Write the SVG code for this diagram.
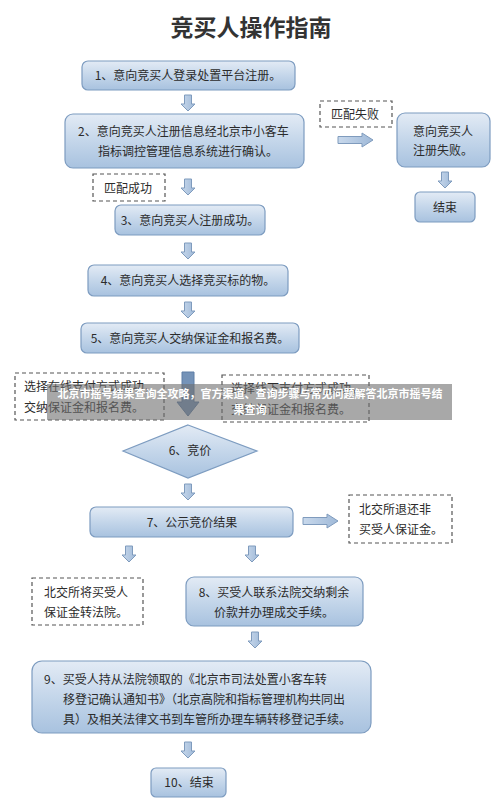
<svg xmlns="http://www.w3.org/2000/svg" width="500" height="804" viewBox="0 0 500 804">
<defs>
<linearGradient id="gb" x1="0" y1="0" x2="0" y2="1">
<stop offset="0" stop-color="#e3ebf5"/>
<stop offset="0.5" stop-color="#c4d6ea"/>
<stop offset="1" stop-color="#a8c2df"/>
</linearGradient>
<linearGradient id="ga" x1="0" y1="0" x2="1" y2="0">
<stop offset="0" stop-color="#c9d9ec"/>
<stop offset="1" stop-color="#9fb9d8"/>
</linearGradient>
<path id="ad" d="M-3.5,0 H3.5 V9 H7 L0,16 L-7,9 H-3.5 Z"/>
<path id="ar" d="M0,-3.5 H24 V-7 L35,0 L24,7 V3.5 H0 Z"/>
</defs>
<style>
.box{fill:url(#gb);stroke:#7d9cc0;stroke-width:1.2}
.dash{fill:#fff;stroke:#555;stroke-width:1.2;stroke-dasharray:4 3}
.arr{fill:url(#ga);stroke:#7f9bbd;stroke-width:1}
.t{font-family:"Noto Sans CJK SC","Noto Sans",sans-serif;font-size:12px;fill:#2b2b2b}
.c{text-anchor:middle}
.title{font-family:"Noto Sans CJK SC",sans-serif;font-size:23px;font-weight:bold;fill:#333;text-anchor:middle}
.ban{font-family:"Noto Sans CJK SC",sans-serif;font-size:11px;font-weight:bold;fill:#fff;text-anchor:middle}
</style>
<rect width="500" height="804" fill="#fff"/>
<text class="title" x="251" y="36">竞买人操作指南</text>

<g id="connectors">
<use href="#ad" class="arr" x="188" y="95"/>
<use href="#ar" class="arr" x="338" y="140"/>
<use href="#ad" class="arr" x="445" y="172"/>
<use href="#ad" class="arr" x="188" y="179"/>
<use href="#ad" class="arr" x="188" y="243"/>
<use href="#ad" class="arr" x="188" y="302"/>
<path d="M182,372 H194 V402 H199 L188,416 L177,402 H182 Z" fill="#7593b8" stroke="#5f7fa6"/>
<use href="#ad" class="arr" x="188" y="484"/>
<use href="#ar" class="arr" x="303" y="521"/>
<use href="#ad" class="arr" x="129" y="546"/>
<use href="#ad" class="arr" x="252" y="546"/>
<use href="#ad" class="arr" x="255" y="632"/>
<use href="#ad" class="arr" x="188" y="742"/>
</g>

<g id="n1"><rect class="box" x="82" y="61" width="213" height="29" rx="6"/><text class="t c" x="188" y="80">1、意向竞买人登录处置平台注册。</text></g>
<g id="n2"><rect class="box" x="65" y="114" width="239" height="54" rx="8"/><text class="t" x="78" y="136">2、意向竞买人注册信息经北京市小客车</text><text class="t c" x="188" y="156">指标调控管理信息系统进行确认。</text></g>
<g id="fail-label"><rect class="dash" x="320" y="101" width="72" height="26"/><text class="t" x="331" y="119">匹配失败</text></g>
<g id="nfail"><rect class="box" x="397" y="113" width="93" height="54" rx="8"/><text class="t c" x="443" y="136">意向竞买人</text><text class="t c" x="443" y="155">注册失败。</text></g>
<g id="nend1"><rect class="box" x="415" y="192" width="60" height="30" rx="5"/><text class="t c" x="445" y="212">结束</text></g>
<g id="ok-label"><rect class="dash" x="93" y="174" width="72" height="27"/><text class="t" x="104" y="193">匹配成功</text></g>
<g id="n3"><rect class="box" x="115" y="205" width="150" height="30" rx="6"/><text class="t c" x="190" y="225">3、意向竞买人注册成功。</text></g>
<g id="n4"><rect class="box" x="88" y="265" width="200" height="31" rx="6"/><text class="t c" x="188" y="285">4、意向竞买人选择竞买标的物。</text></g>
<g id="n5"><rect class="box" x="81" y="323" width="218" height="30" rx="6"/><text class="t c" x="190" y="343">5、意向竞买人交纳保证金和报名费。</text></g>
<g id="pay-online"><rect class="dash" x="15" y="373" width="149" height="47"/><text class="t" x="24" y="391">选择在线支付方式成功，</text><text class="t" x="24" y="412">交纳保证金和报名费。</text></g>
<g id="pay-offline"><rect class="dash" x="222" y="375" width="147" height="47"/><text class="t" x="231" y="393">选择线下支付方式成功，</text><text class="t" x="231" y="414">交纳保证金和报名费。</text></g>
<g id="n6"><path d="M188,425 L257,451 L188,478 L123,451 Z" fill="url(#gb)" stroke="#7d9cc0" stroke-width="1.2"/><text class="t c" x="190" y="455">6、竞价</text></g>
<g id="n7"><rect class="box" x="90" y="507" width="203" height="30" rx="6"/><text class="t c" x="192" y="527">7、公示竞价结果</text></g>
<g id="refund"><rect class="dash" x="349" y="495" width="103" height="48"/><text class="t" x="359" y="514">北交所退还非</text><text class="t" x="359" y="534">买受人保证金。</text></g>
<g id="court"><rect class="dash" x="32" y="578" width="111" height="47"/><text class="t" x="44" y="597">北交所将买受人</text><text class="t" x="44" y="617">保证金转法院。</text></g>
<g id="n8"><rect class="box" x="186" y="577" width="177" height="49" rx="8"/><text class="t c" x="274" y="597">8、买受人联系法院交纳剩余</text><text class="t c" x="274" y="617">价款并办理成交手续。</text></g>
<g id="n9"><rect class="box" x="32" y="661" width="339" height="72" rx="10"/><text class="t" x="44" y="684">9、买受人持从法院领取的《北京市司法处置小客车转</text><text class="t" x="63" y="704">移登记确认通知书》（北京高院和指标管理机构共同出</text><text class="t" x="63" y="724">具）及相关法律文书到车管所办理车辆转移登记手续。</text></g>
<g id="n10"><rect class="box" x="151" y="768" width="75" height="29" rx="5"/><text class="t c" x="189" y="787">10、结束</text></g>

<g id="banner"><rect x="47" y="384" width="405" height="36" fill="#6e6e6e" fill-opacity="0.6"/><text class="ban" x="250" y="398">北京市摇号结果查询全攻略，官方渠道、查询步骤与常见问题解答北京市摇号结</text><text class="ban" x="250" y="414">果查询</text></g>
</svg>
